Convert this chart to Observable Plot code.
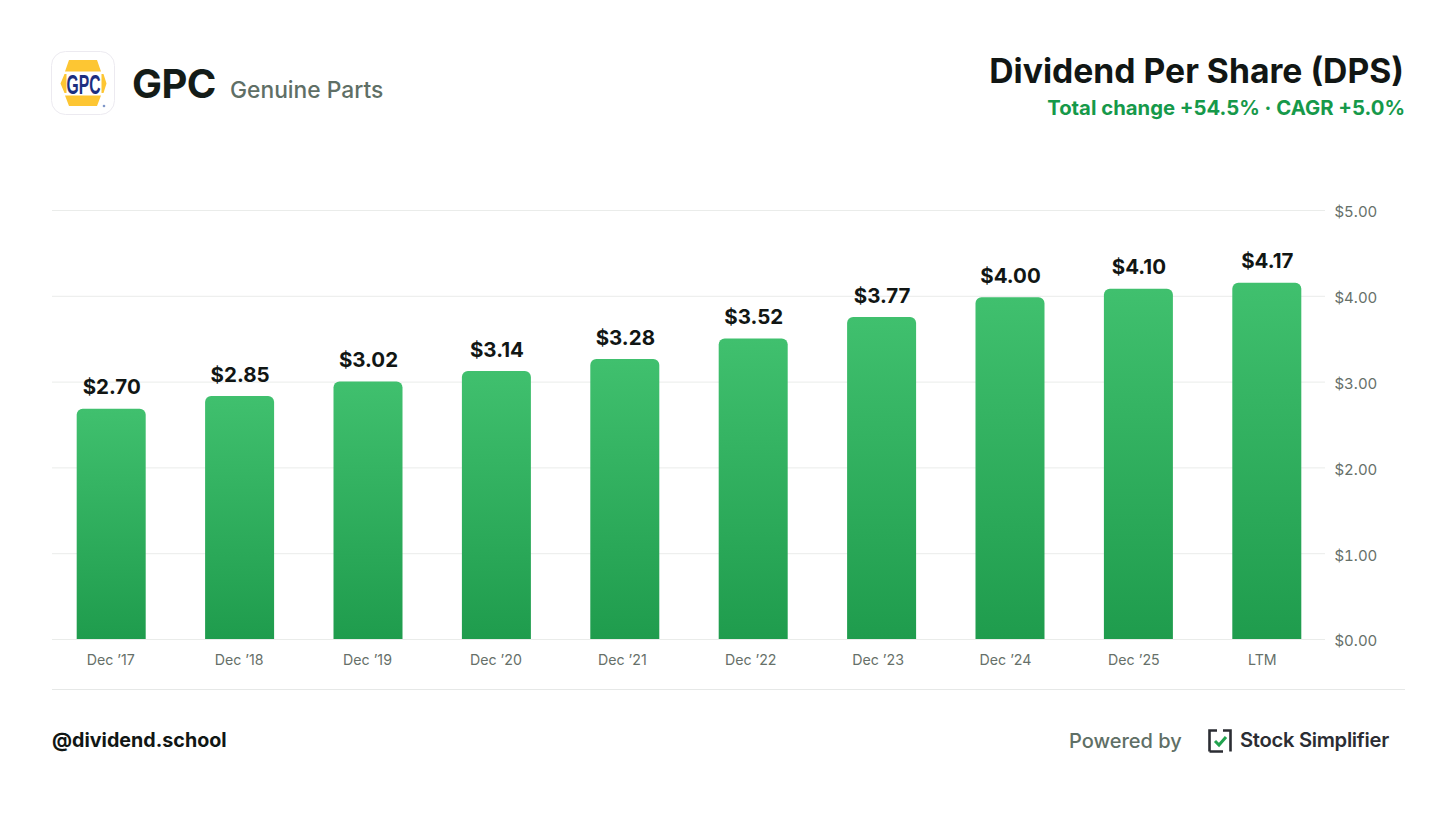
<!DOCTYPE html>
<html><head><meta charset="utf-8">
<script src="https://cdn.jsdelivr.net/npm/d3@7"></script>
<script src="https://cdn.jsdelivr.net/npm/@observablehq/plot@0.6"></script>
<style>
html,body{margin:0;padding:0;background:#fff;font-family:Inter,sans-serif;}
#page{width:1456px;height:819px;position:relative;overflow:hidden;}
header{position:relative;height:180px;}
header>*,footer>*{position:absolute;white-space:nowrap;line-height:1;}
#chart{height:510px;}
#chart svg{display:block;}
footer{position:relative;height:129px;}
.logo{left:51px;top:51px;width:64px;height:64px;}
.ticker{left:132px;top:64px;font-size:40px;font-weight:700;color:#141c18;letter-spacing:-.6px;}
.name{left:230px;top:79px;font-size:22.8px;font-weight:500;color:#5f6f66;}
.title{right:52px;top:54px;font-size:33.7px;font-weight:700;color:#111614;}
.sub{right:51px;top:98px;font-size:20.3px;font-weight:700;color:#16994a;}
.line{left:52px;top:-1px;width:1353px;height:1px;background:#e6e8e7;}
.handle{left:52px;top:41px;font-size:19.7px;font-weight:700;color:#111614;}
.powered{left:1069px;top:41px;font-size:20px;font-weight:500;color:#5f6f66;}
.ss{left:1208px;top:39px;width:24px;height:24px;}
.brand{left:1240px;top:40px;font-size:20.2px;font-weight:600;color:#2b2d33;letter-spacing:-.3px;}
</style></head><body>
<div id="page">
<header>
<svg class="logo" viewBox="0 0 64 64">
<rect x=".5" y=".5" width="63" height="63" rx="14" fill="#fff" stroke="#eceaf0"/>
<path d="M18 9H46L50 20.5H14Z M14 44.5H50L46 55H18Z M13.5 23L15.5 23V42L13.5 42L9.5 32.5Z M50.5 23L52.5 23L55.5 32.5L52.5 42L50.5 42Z" fill="#fdc633"/>
<text transform="translate(32.5,42.5) scale(.58,1)" text-anchor="middle" font-family="Liberation Sans Narrow,Liberation Sans" font-weight="700" font-size="27" fill="#1c2f80">GPC</text>
<circle cx="53" cy="55" r="1.3" fill="#7f97c8"/>
</svg>
<div class="ticker">GPC</div>
<div class="name">Genuine Parts</div>
<div class="title">Dividend Per Share (DPS)</div>
<div class="sub">Total change +54.5% · CAGR +5.0%</div>
</header>
<div id="chart"></div>
<footer>
<div class="line"></div>
<div class="handle">@dividend.school</div>
<div class="powered">Powered by</div>
<svg class="ss" viewBox="0 0 24 24">
<path d="M1.5 22.5V1.5H9M1.5 22.5H15M22.5 22.5V1.5H15" fill="none" stroke="#2b2d33" stroke-width="2.6"/>
<path d="M7 12L11 16L18 8" fill="none" stroke="#22a34f" stroke-width="3"/>
</svg>
<div class="brand">Stock Simplifier</div>
</footer>
</div>
<script>
const categories = ["Dec '17","Dec '18","Dec '19","Dec '20","Dec '21","Dec '22","Dec '23","Dec '24","Dec '25","LTM"];
const dps = [2.70,2.85,3.02,3.14,3.28,3.52,3.77,4.00,4.10,4.17];
const yTicks = [0,1,2,3,4,5];
const rows = categories.map((c,i)=>({c,v:dps[i]}));
const money = d=>"$"+d.toFixed(2);
const font = "Inter, sans-serif";
const labelGroups = [[categories.slice(0,4),-1],[categories.slice(4,6),-3],[categories.slice(6,7),-4],[categories.slice(7),-5]];

const chart = Plot.plot({
  width:1456, height:510,
  marginTop:30, marginBottom:51, marginLeft:47, marginRight:125,
  style:{background:"transparent",fontFamily:font,overflow:"visible"},
  x:{domain:categories,paddingInner:.4626,paddingOuter:.2313,round:false,label:null},
  y:{domain:[0,5],label:null},
  marks:[
    Plot.ruleY(yTicks,{stroke:"#eaecea",strokeWidth:1,strokeOpacity:1,insetLeft:5,insetRight:6}),
    () => {
      const s = d3.create("svg:defs");
      const g = s.append("linearGradient").attr("id","barGrad").attr("x1",0).attr("y1",0).attr("x2",0).attr("y2",1);
      g.append("stop").attr("offset","0%").attr("stop-color","#40c06e");
      g.append("stop").attr("offset","100%").attr("stop-color","#1f9c4d");
      return s.node();
    },
    Plot.barY(rows,{x:"c",y:"v",fill:"url(#barGrad)",ry1:6,insetTop:1.5}),
    Plot.text(rows,{x:"c",y:"v",text:d=>money(d.v),dy:-20,fontSize:20.5,fontWeight:700,fill:"#111614",fontFamily:font}),
    ...labelGroups.map(([ticks,dx])=>Plot.axisX(ticks,{anchor:"bottom",tickSize:0,tickPadding:15,fontSize:14.2,fill:"#667069",label:null,dx,tickFormat:d=>d.replace("'","’")})),
    Plot.axisY(yTicks,{anchor:"right",tickSize:0,tickPadding:3,dy:2,fontSize:15,fill:"#667069",label:null,tickFormat:money,textAnchor:"start"})
  ]
});
document.getElementById("chart").appendChild(chart);
</script>
</body></html>
